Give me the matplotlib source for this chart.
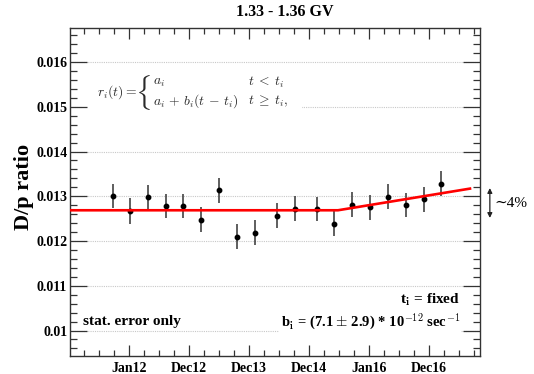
import numpy as np
import matplotlib
matplotlib.use('Agg')
import matplotlib.pyplot as plt
from matplotlib.patches import Rectangle
from matplotlib.ticker import MultipleLocator

# time in years from Jan 2012
t = [-0.272, 0.017, 0.317, 0.612, 0.905, 1.205, 1.5, 1.8, 2.095, 2.462,
     2.762, 3.128, 3.422, 3.722, 4.022, 4.317, 4.612, 4.912, 5.205]
ratio = [0.01300, 0.01267, 0.012985, 0.01278, 0.01278, 0.01248, 0.01313,
         0.01210, 0.01219, 0.01257, 0.01272, 0.01272, 0.01239, 0.01281,
         0.01275, 0.01299, 0.01280, 0.01293, 0.01328]
err = [0.00027, 0.00030, 0.00027, 0.00027, 0.00027, 0.00027, 0.00027,
       0.00028, 0.00028, 0.00027, 0.00028, 0.00027, 0.00028, 0.00028,
       0.00028, 0.00028, 0.00027, 0.00028, 0.00028]

# fit: flat a, then slope b (per year) after t_break
a_fit = 0.012687
b_fit = 0.00022
t_break = 3.483
t_end = 5.683

tick_pos = [0, 1, 2, 3, 4, 5]
tick_lab = ['Jan12', 'Dec12', 'Dec13', 'Dec14', 'Jan16', 'Dec16']

serif = ['Liberation Serif', 'DejaVu Serif']
plt.rcParams['font.family'] = serif
plt.rcParams['mathtext.fontset'] = 'cm'

fig = plt.figure(figsize=(5.34, 3.74), dpi=100)
ax = fig.add_axes([0.1311, 0.0481, 0.7678, 0.877])

ax.set_xlim(-0.983, 5.85)
ax.set_ylim(0.00943, 0.01676)

for yv in np.arange(0.010, 0.0161, 0.001):
    ax.axhline(yv, color='#c8c8c8', lw=0.8, ls=(0, (1, 1)), zorder=0)

ax.errorbar(t, ratio, yerr=err, fmt='o', color='black', ms=3.2,
            ecolor='#333333', elinewidth=1.1, capsize=0, zorder=3)

fx = [ax.get_xlim()[0], t_break, t_end]
fy = [a_fit, a_fit, a_fit + b_fit * (t_end - t_break)]
ax.plot(fx, fy, color='red', lw=1.9, zorder=4)

ax.set_xticks(tick_pos)
ax.set_xticklabels(tick_lab)
ax.xaxis.set_minor_locator(MultipleLocator(0.25))
ax.set_yticks([0.010, 0.011, 0.012, 0.013, 0.014, 0.015, 0.016])
ax.set_yticklabels(['0.01', '0.011', '0.012', '0.013', '0.014', '0.015', '0.016'])
ax.yaxis.set_minor_locator(MultipleLocator(0.0002))

ax.tick_params(axis='both', which='both', direction='in', top=True, right=True,
               color='#333333', width=0.9)
ax.tick_params(axis='x', which='major', length=8, pad=4)
ax.tick_params(axis='x', which='minor', length=4)
ax.tick_params(axis='y', which='major', length=12, pad=2)
ax.tick_params(axis='y', which='minor', length=5)
for lab in ax.get_xticklabels() + ax.get_yticklabels():
    lab.set_fontweight('bold')
    lab.set_fontsize(10)
for s in ax.spines.values():
    s.set_color('#333333')
    s.set_linewidth(1.0)

# formula box
ax.add_patch(Rectangle((0.029, 0.726), 0.537, 0.158, transform=ax.transAxes,
                       facecolor='white', edgecolor='none', zorder=1))
fc = '#2a2a2a'
ax.text(0.066, 0.805, r'$r_i(t) =$', transform=ax.transAxes, fontsize=9.8,
        color=fc, va='center', zorder=2)
ax.text(0.197, 0.803, r'$\{$', transform=ax.transAxes, fontsize=21,
        color=fc, va='center', ha='right', zorder=2)
ax.text(0.202, 0.835, r'$a_i$', transform=ax.transAxes, fontsize=9.8,
        color=fc, va='center', zorder=2)
ax.text(0.434, 0.835, r'$t\;<\;t_i$', transform=ax.transAxes, fontsize=9.8,
        color=fc, va='center', zorder=2)
ax.text(0.202, 0.776, r'$a_i\,+\,b_i(t\,-\,t_i)$', transform=ax.transAxes,
        fontsize=9.8, color=fc, va='center', zorder=2)
ax.text(0.434, 0.776, r'$t\;\geq\;t_i,$', transform=ax.transAxes, fontsize=9.8,
        color=fc, va='center', zorder=2)

ax.text(0.032, 0.105, 'stat. error only', transform=ax.transAxes,
        fontsize=11, fontweight='bold', va='center', zorder=2)
ax.text(0.951, 0.171, r't$_{\mathbf{i}}$ = fixed', transform=ax.transAxes,
        fontsize=11, fontweight='bold', va='center', ha='right', zorder=2,
        bbox=dict(facecolor='white', edgecolor='none', pad=1))
ax.text(0.951, 0.105, r'b$_{\mathbf{i}}$ = (7.1 $\mathbf{\pm}$ 2.9) * 10$^{\mathbf{-12}}$ sec$^{\mathbf{-1}}$',
        transform=ax.transAxes, fontsize=10.5, fontweight='bold', va='center',
        ha='right', zorder=2,
        bbox=dict(facecolor='white', edgecolor='none', pad=1))

# ~4% arrow
ax.annotate('', xy=(1.024, 0.421), xytext=(1.024, 0.512),
            xycoords='axes fraction', textcoords='axes fraction',
            arrowprops=dict(arrowstyle='<|-|>', color='#222222', lw=0.9,
                            mutation_scale=7, shrinkA=0, shrinkB=0),
            annotation_clip=False)
ax.text(1.034, 0.466, '∼4%', transform=ax.transAxes, fontsize=11,
        va='center', ha='left', family=serif)

fig.text(0.534, 0.968, '1.33 - 1.36 GV', ha='center', va='center',
         fontsize=11.5, fontweight='bold')
fig.text(0.045, 0.5, 'D/p ratio', ha='center', va='center', rotation=90,
         fontsize=16, fontweight='bold')

fig.savefig('out.png', dpi=100)
